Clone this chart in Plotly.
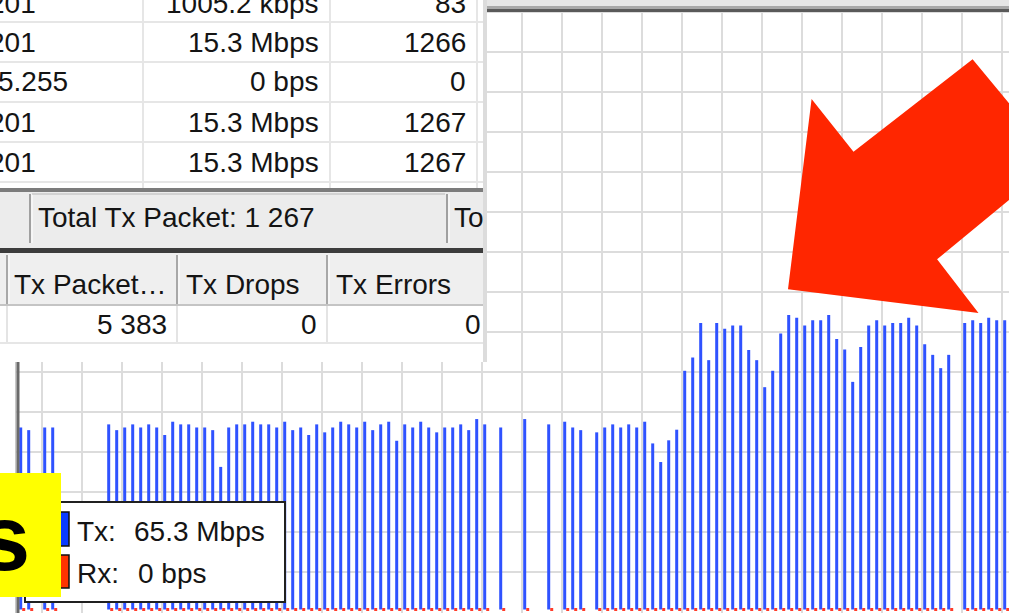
import plotly.graph_objects as go

W, H = 1009, 613

# ---------------- data ----------------
samples = list(range(124))
tx_mbps = [41.1, 40.5, None, 41.1, 41.1, None, None, None, None, None, None,
           41.8, 40.5, 41.1, 41.8, 41.1, 41.8, 41.1, 39.4, 42.4, 41.8,
           41.8, 41.1, 41.1, 40.5, 32.2, 41.1, 41.8, 41.8, 42.4, 41.8,
           41.8, 41.1, 42.4, 40.5, 41.1, 39.4, 41.8, 40.0, 41.1,
           42.4, 41.8, 41.1, 42.4, 40.5, 41.8, 42.4, 38.1, 41.8, 41.1,
           42.4, 41.1, 40.0, 41.1, 41.1, 41.8, 40.5, 43.0, 41.8,
           None, 41.1, None, None, 43.0, None, None, 41.8, None,
           42.4, 41.1, 40.5, None,
           40.0, 41.1, 41.8, 41.1, 41.8, 41.1, 42.4, 37.5, 33.3, 38.2, 40.6,
           53.9, 56.9, 64.7, 56.3, 64.7, 63.4, 64.1, 64.1, 58.6, 56.3,
           50.2, 53.9, 62.3, 66.5, 65.9, 64.1, 65.3, 65.3, 66.5, 61.1,
           58.7, 51.4, 59.3, 64.1, 65.3, 64.1, 64.7, 64.7, 65.9, 64.1,
           59.9, 57.5, 54.5, 57.5,
           None, 64.7, 65.3, 64.7, 65.9, 65.3, 65.3]
rx_mbps = [0 if v is not None else None for v in tx_mbps]

table_rows = [
    ("201", "1005.2 kbps", "83"),
    ("201", "15.3 Mbps", "1266"),
    ("5.255", "0 bps", "0"),
    ("201", "15.3 Mbps", "1267"),
    ("201", "15.3 Mbps", "1267"),
]
status_text = "Total Tx Packet: 1 267"
status_text2 = "To"
header_cols = ["Tx Packet\u2026", "Tx Drops", "Tx Errors"]
data_row = ["5 383", "0", "0"]
legend_tx = ("Tx:", "65.3 Mbps")
legend_rx = ("Rx:", "0 bps")
big_text = "s"

# ---------------- helpers (pixel -> paper) ----------------
def X(x):
    return x / W

def Y(y):
    return 1 - y / H

shapes = []

def rect(x0, y0, x1, y1, fill, lc=None, lw=0):
    shapes.append(dict(type="rect", xref="paper", yref="paper",
                       x0=X(x0), x1=X(x1), y0=Y(y1), y1=Y(y0),
                       fillcolor=fill, line=dict(width=lw, color=lc or fill),
                       layer="above"))

def line(x0, y0, x1, y1, color, w):
    shapes.append(dict(type="line", xref="paper", yref="paper",
                       x0=X(x0), x1=X(x1), y0=Y(y0), y1=Y(y1),
                       line=dict(color=color, width=w), layer="above"))

annotations = []
FONT = "Liberation Sans"

def text(t, x, y, anchor="left", size=28, color="#141414", bold=False):
    if bold:
        t = "<b>" + t + "</b>"
    annotations.append(dict(text=t, xref="paper", yref="paper", x=X(x), y=Y(y),
                            xanchor=anchor, yanchor="middle", showarrow=False,
                            font=dict(family=FONT, size=size, color=color),
                            borderpad=0))

# ---------------- traces ----------------
fig = go.Figure()
fig.add_trace(go.Bar(x=samples, y=tx_mbps, width=0.375,
                     marker=dict(color="#2f52ff", line=dict(width=0)),
                     hoverinfo="skip"))
fig.add_trace(go.Scatter(x=[s + 0.375 for s in samples], y=rx_mbps, mode="markers",
                         marker=dict(symbol="square", size=3, color="#ff3b2a",
                                     line=dict(width=0)),
                         hoverinfo="skip"))

# ---------------- graph frame ----------------
rect(0, 0, 15, H, "#ffffff")
rect(15, 0, 16.5, H, "#c8c8c8")
rect(16.5, 0, 19.5, H, "#6a6a6a")
rect(483, 0, W, 6, "#e6e6e6")
rect(483, 6, W, 9, "#a8a8a8")
rect(483, 9, W, 12, "#5a5a5a")

# ---------------- table window ----------------
rect(0, 0, 483, 362, "#ffffff")
for yy in [22, 62, 102, 142, 182]:
    line(0, yy, 483, yy, "#e6e6e6", 2)
for xx in [143, 330, 477]:
    line(xx, 0, xx, 188, "#e6e6e6", 2)
rect(483, 0, 487, 362, "#dcdcdc")

# status bar
rect(0, 188, 483, 192, "#7c7c7c")
rect(0, 192, 483, 248, "#ececec")
line(30, 194, 30, 243, "#a0a0a0", 2)
line(32, 194, 32, 243, "#ffffff", 1)
line(447, 194, 447, 243, "#a0a0a0", 2)
line(449, 194, 449, 243, "#ffffff", 1)
line(32, 194, 445, 194, "#b8b8b8", 1)
rect(0, 248, 483, 253, "#3c3c3c")

# header row
rect(0, 253, 483, 305, "#efefef")
line(0, 305, 483, 305, "#c4c4c4", 2)
for xx in [7, 177, 327]:
    line(xx, 255, xx, 304, "#a8a8a8", 2)
    line(xx + 2, 255, xx + 2, 304, "#ffffff", 1)
    line(xx, 306, xx, 343, "#e4e4e4", 2)
line(0, 343, 483, 343, "#e6e6e6", 2)

# ---------------- legend box ----------------
rect(25, 502, 285, 602, "#ffffff", "#202020", 2)
rect(56, 512, 69, 546, "#0a3cff", "#101010", 1.5)
rect(56, 555, 69, 588, "#ff3300", "#101010", 1.5)

# ---------------- yellow label ----------------
rect(0, 473, 61, 597, "#ffff00")

# ---------------- red arrow ----------------
pts = [(811.6, 99), (853.5, 151.7), (972.6, 59.3), (1056.5, 160.7),
       (937.1, 259.3), (978.5, 313), (788, 289.3)]
path = "M " + " L ".join(f"{X(a):.5f},{Y(b):.5f}" for a, b in pts) + " Z"
shapes.append(dict(type="path", xref="paper", yref="paper", path=path,
                   fillcolor="#ff2600", line=dict(width=0), layer="above"))

# ---------------- texts ----------------
row_y = [3, 42.5, 82, 122, 162]
for (c1, c2, c3), yy in zip(table_rows, row_y):
    text(c1, 37 if len(c1) <= 3 else 69, yy, "right")
    text(c2, 320, yy, "right")
    text(c3, 467, yy, "right")

text(status_text, 37, 217.5, "left")
text(status_text2, 453, 217.5, "left")

for t, xx in zip(header_cols, [13, 185, 335]):
    text(t, xx, 284, "left")
for t, xx in zip(data_row, [168, 318, 482]):
    text(t, xx, 324, "right")

text(legend_tx[0], 76, 531.7, "left")
text(legend_tx[1], 133, 531.7, "left")
text(legend_rx[0], 76, 573, "left")
text(legend_rx[1], 137, 573, "left")

text(big_text, 31, 538, "right", size=92, color="#000000", bold=True)

# ---------------- layout ----------------
fig.update_layout(
    width=W, height=H,
    margin=dict(l=0, r=0, t=0, b=0, pad=0),
    paper_bgcolor="#ffffff", plot_bgcolor="#ffffff",
    showlegend=False,
    xaxis=dict(range=[-2.5875, 123.5375], showgrid=True, gridcolor="#dcdcdc",
               gridwidth=2, tickmode="linear", tick0=2.6625, dtick=5,
               showticklabels=False, zeroline=False, showline=False, ticks="",
               fixedrange=True),
    yaxis=dict(range=[-0.79, 137.625], showgrid=True, gridcolor="#dcdcdc",
               gridwidth=2, tickmode="linear", tick0=8.4675, dtick=9.032,
               showticklabels=False, zeroline=False, showline=False, ticks="",
               fixedrange=True),
    shapes=shapes,
    annotations=annotations,
)

fig.write_html(
    "out.html",
    config={"displayModeBar": False},
    post_script="document.body.style.margin='0';document.body.style.overflow='hidden';",
)
